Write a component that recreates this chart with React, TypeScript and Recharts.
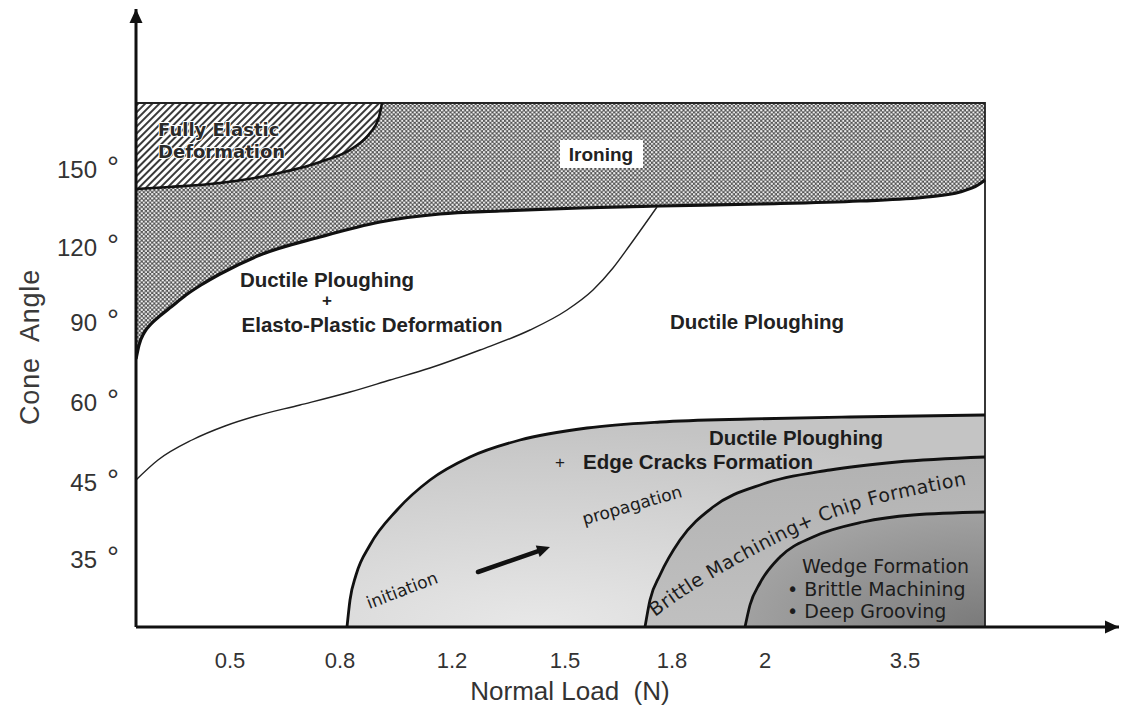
import React from 'react';
import { ComposedChart, Area, Line, Scatter, XAxis, YAxis, ReferenceDot } from 'recharts';

// ---- axis ticks (positions along the drawn axes) ----
const xTickPos = [9.4, 20.4, 31.6, 42.9, 53.6, 62.9, 76.9];
const xTickLabels = ['0.5', '0.8', '1.2', '1.5', '1.8', '2', '3.5'];
const yTickPos = [6.8, 14.5, 22.5, 30.5, 38.0, 45.8];
const yTickLabels = ['35', '45', '60', '90', '120', '150'];

const X_MAX = 98.3;
const Y_MAX = 61.8;
const FRAME_TOP = 52.4;
const FRAME_RIGHT = 84.9;

// ---- regime boundaries ----
const ironingBoundary = [
  { x: 0.0, y: 26.8 }, { x: 0.3, y: 28.2 }, { x: 0.8, y: 29.4 }, { x: 1.5, y: 30.3 },
  { x: 2.5, y: 31.2 }, { x: 3.5, y: 32.0 }, { x: 5.0, y: 33.2 }, { x: 6.5, y: 34.2 },
  { x: 8.4, y: 35.3 }, { x: 12.4, y: 37.2 }, { x: 18.4, y: 39.0 }, { x: 24.4, y: 40.5 },
  { x: 30.4, y: 41.3 }, { x: 36.4, y: 41.6 }, { x: 44.4, y: 41.9 }, { x: 52.4, y: 42.1 },
  { x: 62.4, y: 42.3 }, { x: 72.4, y: 42.6 }, { x: 79.1, y: 43.0 }, { x: 82.4, y: 43.5 },
  { x: 84.2, y: 44.2 }, { x: 84.9, y: 44.7 },
];
const elasticBoundary = [
  { x: 0.0, y: 43.8 }, { x: 3.4, y: 44.0 }, { x: 8.4, y: 44.4 }, { x: 13.4, y: 45.2 },
  { x: 18.4, y: 46.5 }, { x: 21.7, y: 47.9 }, { x: 23.4, y: 49.4 }, { x: 24.3, y: 51.0 },
  { x: 24.6, y: 52.4 },
];
const transitionLine = [
  { x: 0.0, y: 14.7 }, { x: 2.2, y: 16.7 }, { x: 5.6, y: 18.7 }, { x: 8.9, y: 20.1 },
  { x: 12.0, y: 21.1 }, { x: 16.4, y: 22.2 }, { x: 21.4, y: 23.5 }, { x: 25.4, y: 24.7 },
  { x: 29.4, y: 25.9 }, { x: 34.4, y: 27.7 }, { x: 39.4, y: 29.7 }, { x: 43.1, y: 31.7 },
  { x: 45.7, y: 33.7 }, { x: 47.7, y: 35.9 }, { x: 49.4, y: 38.2 }, { x: 52.1, y: 42.0 },
];
const edgeCrackBoundary = [
  { x: 21.1, y: 0 }, { x: 21.4, y: 2.7 }, { x: 22.0, y: 5.2 }, { x: 23.4, y: 8.2 },
  { x: 26.1, y: 11.7 }, { x: 29.4, y: 14.7 }, { x: 33.4, y: 17.0 }, { x: 38.4, y: 18.7 },
  { x: 45.1, y: 19.9 }, { x: 52.4, y: 20.5 }, { x: 61.4, y: 20.8 }, { x: 71.4, y: 21.0 },
  { x: 84.9, y: 21.2 },
];
const chipBoundary = [
  { x: 50.9, y: 0 }, { x: 51.4, y: 2.7 }, { x: 52.4, y: 5.2 }, { x: 54.4, y: 8.7 },
  { x: 57.7, y: 12.0 }, { x: 62.7, y: 14.3 }, { x: 69.4, y: 15.7 }, { x: 76.1, y: 16.5 },
  { x: 84.9, y: 17.0 },
];
const wedgeBoundary = [
  { x: 60.9, y: 0 }, { x: 61.4, y: 2.2 }, { x: 62.4, y: 4.4 }, { x: 64.4, y: 7.0 },
  { x: 67.7, y: 9.0 }, { x: 72.7, y: 10.5 }, { x: 77.7, y: 11.2 }, { x: 84.9, y: 11.5 },
];
const frame = [
  { x: 0, y: FRAME_TOP }, { x: FRAME_RIGHT, y: FRAME_TOP }, { x: FRAME_RIGHT, y: 0 },
];

// ---- annotations ----
const brittleWords = ['Brittle ', 'Machining', '+ ', 'Chip ', 'Formation'];
const brittleTextPath = [
  { x: 51.9, y: 1.0 }, { x: 54.7, y: 3.0 }, { x: 57.7, y: 4.9 }, { x: 60.9, y: 6.7 },
  { x: 64.1, y: 8.4 }, { x: 67.2, y: 9.9 }, { x: 70.2, y: 11.1 }, { x: 73.6, y: 12.2 },
  { x: 78.4, y: 13.3 }, { x: 84.9, y: 14.6 },
];
const crackArrow = [{ x: 34.2, y: 5.5 }, { x: 41.4, y: 8.0 }];
const ironingLabel = { x: 46.5, y: 47.3, text: 'Ironing' };
const regionLabels = [
  { x: 2.2, y: 49.7, text: 'Fully Elastic', kind: 'elastic' },
  { x: 2.2, y: 47.5, text: 'Deformation', kind: 'elastic' },
  { x: 19.1, y: 34.7, text: 'Ductile Ploughing', kind: 'bold' },
  { x: 19.1, y: 32.7, text: '+', kind: 'plus' },
  { x: 23.6, y: 30.2, text: 'Elasto-Plastic Deformation', kind: 'bold' },
  { x: 62.1, y: 30.5, text: 'Ductile Ploughing', kind: 'bold' },
  { x: 66.0, y: 18.9, text: 'Ductile Ploughing', kind: 'grayBold' },
  { x: 42.4, y: 16.5, text: '+', kind: 'plusGray' },
  { x: 44.7, y: 16.5, text: 'Edge Cracks Formation', kind: 'grayBoldStart' },
  { x: 49.6, y: 12.2, text: 'propagation', kind: 'propagation' },
  { x: 26.6, y: 3.7, text: 'initiation', kind: 'initiation' },
  { x: 66.6, y: 6.1, text: 'Wedge Formation', kind: 'wedge' },
  { x: 65.1, y: 3.8, text: '\u2022 Brittle Machining', kind: 'wedge' },
  { x: 65.1, y: 1.6, text: '\u2022 Deep Grooving', kind: 'wedge' },
];

const SANS = "Arial, 'Liberation Sans', Helvetica, sans-serif";
const VERA = "'DejaVu Sans', Verdana, sans-serif";

const labelStyles: Record<string, any> = {
  elastic: {
    fontFamily: VERA, fontSize: 18, fontWeight: 'bold', fill: '#2a2a2a', textAnchor: 'start',
    stroke: '#fff', strokeWidth: 2, paintOrder: 'stroke', strokeLinejoin: 'round',
  },
  bold: { fontFamily: SANS, fontSize: 20.5, fontWeight: 'bold', fill: '#222', textAnchor: 'middle' },
  plus: { fontFamily: SANS, fontSize: 17, fontWeight: 'bold', fill: '#222', textAnchor: 'middle' },
  grayBold: { fontFamily: SANS, fontSize: 20.5, fontWeight: 'bold', fill: '#1c1c1c', textAnchor: 'middle' },
  grayBoldStart: { fontFamily: SANS, fontSize: 20.5, fontWeight: 'bold', fill: '#1c1c1c', textAnchor: 'start' },
  plusGray: { fontFamily: SANS, fontSize: 17, fill: '#1c1c1c', textAnchor: 'middle' },
  propagation: { fontFamily: VERA, fontSize: 17, fill: '#1c1c1c', textAnchor: 'middle', rot: -16 },
  initiation: { fontFamily: VERA, fontSize: 17, fill: '#1c1c1c', textAnchor: 'middle', rot: -21 },
  wedge: { fontFamily: VERA, fontSize: 19, fill: '#1c1c1c', textAnchor: 'start' },
};

// approximate DejaVu Sans advance widths (em) for laying words along the curve
const veraWidths: Record<string, number> = {
  B: 0.686, r: 0.411, i: 0.278, t: 0.392, l: 0.278, e: 0.615, ' ': 0.318, M: 0.863, a: 0.613,
  c: 0.55, h: 0.634, n: 0.634, g: 0.635, '+': 0.838, C: 0.698, p: 0.635, F: 0.575, o: 0.612, m: 0.974,
};

const ironingBand = ironingBoundary.map((p) => ({ x: p.x, band: [p.y, FRAME_TOP] }));
const elasticBand = elasticBoundary.map((p) => ({ x: p.x, band: [p.y, FRAME_TOP] }));

function smoothPath(pts: { x: number; y: number }[]) {
  let d = `M ${pts[0].x} ${pts[0].y}`;
  for (let i = 0; i < pts.length - 1; i++) {
    const p0 = pts[i - 1] || pts[i];
    const p1 = pts[i];
    const p2 = pts[i + 1];
    const p3 = pts[i + 2] || p2;
    const c1x = p1.x + (p2.x - p0.x) / 6;
    const c1y = p1.y + (p2.y - p0.y) / 6;
    const c2x = p2.x - (p3.x - p1.x) / 6;
    const c2y = p2.y - (p3.y - p1.y) / 6;
    d += ` C ${c1x} ${c1y} ${c2x} ${c2y} ${p2.x} ${p2.y}`;
  }
  return d;
}

const CurvedText = (props: any) => {
  const pts = props.points || [];
  if (pts.length < 2) return null;
  const fs = 19;
  const ls = 0.45;
  let offset = 0;
  const pieces = brittleWords.map((w) => {
    const start = offset;
    for (const ch of w) offset += (veraWidths[ch] ?? 0.6) * fs + ls;
    return { w: w.trim(), start };
  });
  return (
    <g>
      <path id="brittlePath" d={smoothPath(pts)} fill="none" stroke="none" />
      {pieces.map((p, i) => (
        <text key={i} fontFamily={VERA} fontSize={fs} fill="#1c1c1c" letterSpacing={ls}>
          <textPath href="#brittlePath" startOffset={p.start}>{p.w}</textPath>
        </text>
      ))}
    </g>
  );
};

const ArrowShape = (props: any) => {
  const pts = props.points || [];
  if (pts.length < 2) return null;
  const a = pts[0];
  const b = pts[pts.length - 1];
  const ang = Math.atan2(b.y - a.y, b.x - a.x);
  const head = 13;
  const hw = 6;
  const bx = b.x - head * Math.cos(ang);
  const by = b.y - head * Math.sin(ang);
  const nx = -Math.sin(ang);
  const ny = Math.cos(ang);
  return (
    <g>
      <line x1={a.x} y1={a.y} x2={bx + 2 * Math.cos(ang)} y2={by + 2 * Math.sin(ang)} stroke="#111" strokeWidth={4.5} strokeLinecap="round" />
      <polygon points={`${b.x},${b.y} ${bx + nx * hw},${by + ny * hw} ${bx - nx * hw},${by - ny * hw}`} fill="#111" />
    </g>
  );
};

const XTick = (props: any) => {
  const { x, y, payload } = props;
  const i = xTickPos.indexOf(payload.value);
  return (
    <text x={x} y={y + 41} textAnchor="middle" fontSize={22} fontFamily={SANS} fill="#333">
      {xTickLabels[i]}
    </text>
  );
};

const YTick = (props: any) => {
  const { x, y, payload } = props;
  const i = yTickPos.indexOf(payload.value);
  return (
    <g>
      <text x={x - 39} y={y + 8.5} textAnchor="end" fontSize={24} fontFamily={SANS} fill="#333">
        {yTickLabels[i]}
      </text>
      <text x={x - 23} y={y + 8} textAnchor="middle" fontSize={30} fontFamily={SANS} fill="#333">
        {'\u00B0'}
      </text>
    </g>
  );
};

const renderLabel = (lab: any) => (props: any) => {
  const { rot, ...rest } = labelStyles[lab.kind];
  const cx = props.cx;
  const cy = props.cy;
  return (
    <text
      x={cx}
      y={cy}
      dy="0.36em"
      transform={rot ? `rotate(${rot} ${cx} ${cy})` : undefined}
      style={{ whiteSpace: 'pre' }}
      {...rest}
    >
      {lab.text}
    </text>
  );
};

const renderIroning = (props: any) => {
  const { cx, cy } = props;
  return (
    <g>
      <rect x={cx - 41} y={cy - 14} width={83} height={28} fill="#fff" />
      <text x={cx} y={cy} dy="0.36em" textAnchor="middle" fontFamily={SANS} fontSize={19} fontWeight="bold" fill="#222">
        {ironingLabel.text}
      </text>
    </g>
  );
};

const upArrow = (props: any) => {
  const { cx, cy } = props;
  return <polygon points={`${cx},${cy} ${cx - 6.5},${cy + 14} ${cx + 6.5},${cy + 14}`} fill="#111" />;
};
const rightArrow = (props: any) => {
  const { cx, cy } = props;
  return <polygon points={`${cx},${cy} ${cx - 14},${cy - 6.5} ${cx - 14},${cy + 6.5}`} fill="#111" />;
};

const noShape = () => <g />;

export default function App() {
  return (
    <div style={{ position: 'absolute', left: 0, top: 0, width: 1122, height: 715, background: '#fff' }}>
      <ComposedChart width={1122} height={715} margin={{ top: 9, right: 3, bottom: 8, left: 16 }}>
        <defs>
          <pattern id="ironHatch" width="4.2" height="4.2" patternUnits="userSpaceOnUse">
            <rect width="4.2" height="4.2" fill="#525252" />
            <circle cx="1.05" cy="1.05" r="1.15" fill="#f2f2f2" />
            <circle cx="3.15" cy="3.15" r="1.15" fill="#f2f2f2" />
          </pattern>
          <pattern id="elasticHatch" width="5" height="5" patternUnits="userSpaceOnUse" patternTransform="rotate(45)">
            <rect width="5" height="5" fill="#fff" />
            <rect width="2" height="5" fill="#3a3a3a" />
          </pattern>
          <radialGradient id="gOuter" cx="30%" cy="100%" r="95%">
            <stop offset="0%" stopColor="#e8e8e8" />
            <stop offset="100%" stopColor="#c4c4c4" />
          </radialGradient>
          <linearGradient id="gMid" x1="0" y1="0" x2="0" y2="1">
            <stop offset="0%" stopColor="#b2b2b2" />
            <stop offset="100%" stopColor="#c0c0c0" />
          </linearGradient>
          <radialGradient id="gInner" cx="100%" cy="100%" r="110%">
            <stop offset="0%" stopColor="#7a7a7a" />
            <stop offset="100%" stopColor="#a5a5a5" />
          </radialGradient>
        </defs>

        <XAxis
          dataKey="x"
          type="number"
          domain={[0, X_MAX]}
          allowDataOverflow
          ticks={xTickPos}
          interval={0}
          tick={<XTick />}
          tickLine={false}
          tickSize={0}
          tickMargin={0}
          height={80}
          axisLine={{ stroke: '#111', strokeWidth: 3 }}
          label={{
            content: (p: any) => {
              const vb = p.viewBox || { x: 136, y: 627 };
              return (
                <text x={vb.x + 434} y={vb.y + 73} textAnchor="middle" fontSize={26} fontFamily={SANS} fill="#333" style={{ whiteSpace: 'pre' }}>
                  Normal Load  (N)
                </text>
              );
            },
          }}
        />
        <YAxis
          dataKey="y"
          type="number"
          domain={[0, Y_MAX]}
          allowDataOverflow
          ticks={yTickPos}
          interval={0}
          tick={<YTick />}
          tickLine={false}
          tickSize={0}
          tickMargin={0}
          width={120}
          axisLine={{ stroke: '#111', strokeWidth: 3 }}
          label={{
            content: (p: any) => {
              const vb = p.viewBox || { x: 16, y: 9 };
              return (
                <text
                  transform={`translate(${vb.x + 23}, ${vb.y + 338}) rotate(-90)`}
                  textAnchor="middle"
                  fontSize={27}
                  fontFamily={SANS}
                  fill="#3a3a3a"
                  letterSpacing={0.8}
                  style={{ whiteSpace: 'pre' }}
                >
                  Cone  Angle
                </text>
              );
            },
          }}
        />

        <Area data={ironingBand} dataKey="band" type="monotone" stroke="none" fill="url(#ironHatch)" fillOpacity={1} isAnimationActive={false} dot={false} activeDot={false} />
        <Area data={elasticBand} dataKey="band" type="monotone" stroke="none" fill="url(#elasticHatch)" fillOpacity={1} isAnimationActive={false} dot={false} activeDot={false} />
        <Area data={edgeCrackBoundary} dataKey="y" type="monotone" stroke="none" fill="url(#gOuter)" fillOpacity={1} baseValue={0} isAnimationActive={false} dot={false} activeDot={false} />
        <Area data={chipBoundary} dataKey="y" type="monotone" stroke="none" fill="url(#gMid)" fillOpacity={1} baseValue={0} isAnimationActive={false} dot={false} activeDot={false} />
        <Area data={wedgeBoundary} dataKey="y" type="monotone" stroke="none" fill="url(#gInner)" fillOpacity={1} baseValue={0} isAnimationActive={false} dot={false} activeDot={false} />

        <Line data={frame} dataKey="y" type="linear" stroke="#222" strokeWidth={1.8} dot={false} activeDot={false} isAnimationActive={false} />
        <Line data={ironingBoundary} dataKey="y" type="monotone" stroke="#111" strokeWidth={3.2} dot={false} activeDot={false} isAnimationActive={false} />
        <Line data={elasticBoundary} dataKey="y" type="monotone" stroke="#111" strokeWidth={2.6} dot={false} activeDot={false} isAnimationActive={false} />
        <Line data={transitionLine} dataKey="y" type="monotone" stroke="#222" strokeWidth={1.4} dot={false} activeDot={false} isAnimationActive={false} />
        <Line data={edgeCrackBoundary} dataKey="y" type="monotone" stroke="#111" strokeWidth={2.8} dot={false} activeDot={false} isAnimationActive={false} />
        <Line data={chipBoundary} dataKey="y" type="monotone" stroke="#111" strokeWidth={2.8} dot={false} activeDot={false} isAnimationActive={false} />
        <Line data={wedgeBoundary} dataKey="y" type="monotone" stroke="#111" strokeWidth={2.8} dot={false} activeDot={false} isAnimationActive={false} />

        <Scatter data={brittleTextPath} dataKey="y" fill="none" shape={noShape} line={<CurvedText />} lineType="joint" isAnimationActive={false} legendType="none" />
        <Scatter data={crackArrow} dataKey="y" fill="none" shape={noShape} line={<ArrowShape />} lineType="joint" isAnimationActive={false} legendType="none" />

        <ReferenceDot x={ironingLabel.x} y={ironingLabel.y} r={0} ifOverflow="visible" shape={renderIroning} />
        {regionLabels.map((lab, i) => (
          <ReferenceDot key={i} x={lab.x} y={lab.y} r={0} ifOverflow="visible" shape={renderLabel(lab)} />
        ))}
        <ReferenceDot x={0} y={Y_MAX} r={0} ifOverflow="visible" shape={upArrow} />
        <ReferenceDot x={X_MAX} y={0} r={0} ifOverflow="visible" shape={rightArrow} />
      </ComposedChart>
    </div>
  );
}
